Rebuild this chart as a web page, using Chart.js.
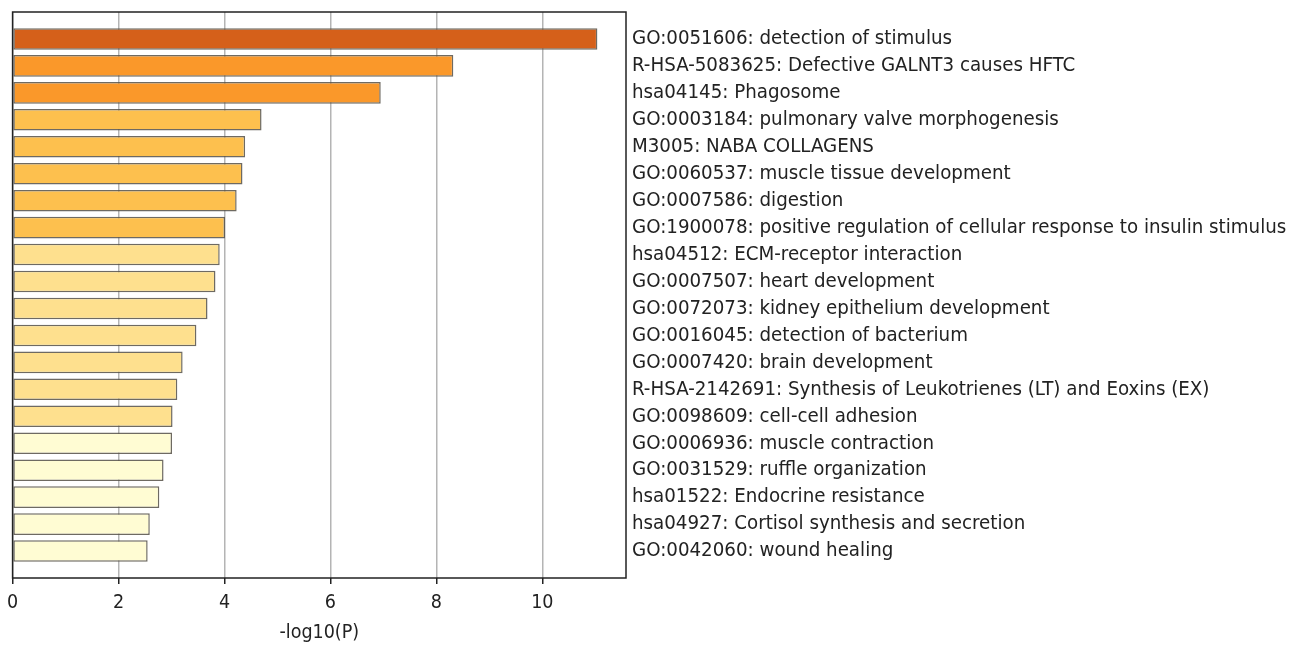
<!DOCTYPE html>
<html>
<head>
<meta charset="utf-8">
<script src="https://cdn.jsdelivr.net/npm/chart.js@4.4.1/dist/chart.umd.min.js"></script>
<style>
	html, body { margin: 0; padding: 0; background: #fff; }
	#wrap { width: 1293px; height: 645px; position: relative; }
</style>
</head>
<body>
<div id="wrap"><canvas id="enrichChart"></canvas></div>
<script>
// Enriched terms, top to bottom
let terms = [
	'GO:0051606: detection of stimulus',
	'R-HSA-5083625: Defective GALNT3 causes HFTC',
	'hsa04145: Phagosome',
	'GO:0003184: pulmonary valve morphogenesis',
	'M3005: NABA COLLAGENS',
	'GO:0060537: muscle tissue development',
	'GO:0007586: digestion',
	'GO:1900078: positive regulation of cellular response to insulin stimulus',
	'hsa04512: ECM-receptor interaction',
	'GO:0007507: heart development',
	'GO:0072073: kidney epithelium development',
	'GO:0016045: detection of bacterium',
	'GO:0007420: brain development',
	'R-HSA-2142691: Synthesis of Leukotrienes (LT) and Eoxins (EX)',
	'GO:0098609: cell-cell adhesion',
	'GO:0006936: muscle contraction',
	'GO:0031529: ruffle organization',
	'hsa01522: Endocrine resistance',
	'hsa04927: Cortisol synthesis and secretion',
	'GO:0042060: wound healing'
];

// -log10(P)
let logP = [11.04, 8.32, 6.95, 4.70, 4.39, 4.34, 4.23, 4.01, 3.91, 3.83,
	3.68, 3.47, 3.21, 3.11, 3.02, 3.01, 2.85, 2.77, 2.59, 2.55];

let barColors = [
	'#d5601a',
	'#fa982a', '#fa982a',
	'#fdc04e', '#fdc04e', '#fdc04e', '#fdc04e', '#fdc04e',
	'#fee08e', '#fee08e', '#fee08e', '#fee08e', '#fee08e', '#fee08e', '#fee08e',
	'#fffcd3', '#fffcd3', '#fffcd3', '#fffcd3', '#fffcd3'
];

let xTicks = [0, 2, 4, 6, 8, 10];
let xMax = 11.58;
let xTitle = '-log10(P)';

// one empty slot above and below, like the matplotlib margins
let labels = [''].concat(terms, ['']);
let values = [null].concat(logP, [null]);
let colors = ['#fff'].concat(barColors, ['#fff']);

let fontFamily = "'DejaVu Sans Condensed', 'DejaVu Sans', sans-serif";

let framePlugin = {
	id: 'frame',
	afterDraw(chart) {
		let ctx = chart.ctx;
		let a = chart.chartArea;
		ctx.save();
		ctx.strokeStyle = '#222';
		ctx.lineWidth = 1.5;
		ctx.strokeRect(a.left, a.top, a.right - a.left, a.bottom - a.top);
		ctx.restore();
	}
};

let ctx = document.getElementById('enrichChart').getContext('2d');
let enrichChart = new Chart(ctx, {
	type: 'bar',
	data: {
		labels: labels,
		datasets: [{
			data: values,
			backgroundColor: colors,
			borderColor: 'rgba(85, 80, 70, 0.85)',
			borderWidth: 1.5,
			borderSkipped: false,
			categoryPercentage: 1,
			barPercentage: 0.8
		}]
	},
	options: {
		indexAxis: 'y',
		responsive: true,
		maintainAspectRatio: false,
		animation: false,
		layout: { padding: { left: 12, top: 12, right: 0, bottom: 0 } },
		plugins: {
			legend: { display: false },
			tooltip: { enabled: false }
		},
		scales: {
			x: {
				min: 0,
				max: xMax,
				afterBuildTicks: (axis) => { axis.ticks = xTicks.map(v => ({ value: v })); },
				afterFit: (axis) => { axis.height = 67; },
				grid: {
					color: '#b4b4b4',
					lineWidth: 1.5,
					tickColor: '#222',
					tickLength: 6
				},
				border: { display: false },
				ticks: {
					color: '#222',
					padding: 7,
					font: { family: fontFamily, size: 19.5 }
				},
				title: {
					display: true,
					text: xTitle,
					color: '#222',
					padding: { top: 2, bottom: 0 },
					font: { family: fontFamily, size: 19.5 }
				}
			},
			y: {
				position: 'right',
				offset: false,
				afterFit: (axis) => {
					axis.width = 667;
					axis.paddingTop = 0;
					axis.paddingBottom = 0;
				},
				grid: { display: false, drawTicks: false },
				border: { display: false },
				ticks: {
					autoSkip: false,
					color: '#222',
					padding: 6,
					font: { family: fontFamily, size: 20.3 }
				}
			}
		}
	},
	plugins: [framePlugin]
});
</script>
</body>
</html>
